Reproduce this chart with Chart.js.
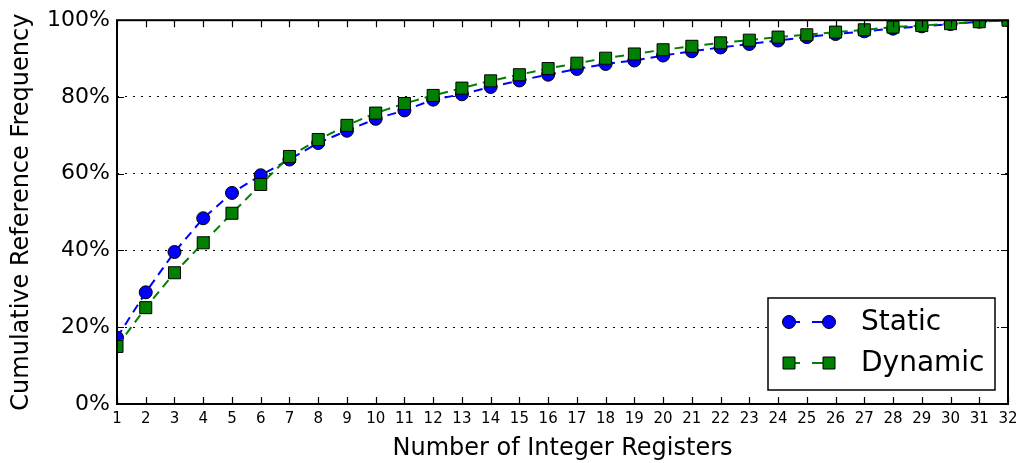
<!DOCTYPE html>
<html><head><meta charset="utf-8">
<script src="https://cdn.jsdelivr.net/npm/chart.js@4"></script>
<style>html,body{margin:0;padding:0;background:#fff}#wrap{width:1024px;height:463px;position:relative}</style>
</head><body><div id="wrap"><canvas id="c" width="1024" height="463"></canvas></div>
<script>
const registers = [1,2,3,4,5,6,7,8,9,10,11,12,13,14,15,16,17,18,19,20,21,22,23,24,25,26,27,28,29,30,31,32];
const staticFreq = [17.3,29.1,39.6,48.4,55.0,59.6,63.7,68.0,71.2,74.3,76.5,79.3,80.7,82.6,84.3,85.8,87.3,88.6,89.5,90.8,91.9,92.9,93.8,94.7,95.6,96.4,97.1,97.8,98.4,99.0,99.6,100];
const dynamicFreq = [15.0,25.1,34.2,42.0,49.7,57.2,64.5,68.9,72.6,75.8,78.3,80.4,82.3,84.2,85.8,87.4,88.8,90.1,91.2,92.3,93.2,94.1,94.8,95.6,96.2,96.9,97.5,98.2,98.6,99.1,99.6,100];
const yTickValues = [0,20,40,60,80,100];
const seriesNames = ['Static','Dynamic'];
const FONT = "'DejaVu Sans', sans-serif";

const toPts = arr => registers.map((r,i)=>({x:r,y:arr[i]}));

const framePlugin = {
  id:'frame',
  afterDraw(chart){
    const {ctx, chartArea:a, scales:{x,y}} = chart;
    ctx.save();
    ctx.strokeStyle='#000';
    ctx.lineWidth=1.2;
    ctx.beginPath();
    registers.forEach(r=>{
      const px=Math.round(x.getPixelForValue(r))+0.5;
      ctx.moveTo(px,a.bottom); ctx.lineTo(px,a.bottom-7);
      ctx.moveTo(px,a.top); ctx.lineTo(px,a.top+7);
    });
    yTickValues.forEach(v=>{
      const py=Math.round(y.getPixelForValue(v))+0.5;
      ctx.moveTo(a.left,py); ctx.lineTo(a.left+7,py);
      ctx.moveTo(a.right,py); ctx.lineTo(a.right-7,py);
    });
    ctx.stroke();
    ctx.lineWidth=2;
    ctx.strokeRect(a.left,a.top,a.right-a.left,a.bottom-a.top);
    // legend
    const lx=768, ly=298, lw=227, lh=92;
    ctx.fillStyle='#fff';
    ctx.fillRect(lx,ly,lw,lh);
    ctx.lineWidth=1.5;
    ctx.strokeRect(lx,ly,lw,lh);
    const rows=[322,363];
    chart.data.datasets.slice().sort((p,q)=>p.legendIdx-q.legendIdx).forEach((ds,i)=>{
      const cy=rows[i];
      ctx.save();
      ctx.strokeStyle=ds.borderColor; ctx.lineWidth=2; ctx.setLineDash([11,12]);
      ctx.beginPath(); ctx.moveTo(789,cy); ctx.lineTo(829,cy); ctx.stroke();
      ctx.restore();
      [789,829].forEach(mx=>{
        ctx.fillStyle=ds.pointBackgroundColor; ctx.strokeStyle='#000'; ctx.lineWidth=1;
        ctx.beginPath();
        if(ds.pointStyle==='circle'){ ctx.arc(mx,cy,6.5,0,Math.PI*2); }
        else { ctx.rect(mx-6,cy-6,12,12); }
        ctx.fill(); ctx.stroke();
      });
      ctx.fillStyle='#000'; ctx.font="28px "+FONT; ctx.textBaseline='middle'; ctx.textAlign='left';
      ctx.fillText(ds.label,861,cy+1);
    });
    ctx.restore();
  }
};

new Chart(document.getElementById('c'),{
  type:'line',
  data:{datasets:[
    {label:seriesNames[1],legendIdx:1,order:0,data:toPts(dynamicFreq),borderColor:'#008000',backgroundColor:'#008000',pointBackgroundColor:'#008000',pointBorderColor:'#000',pointBorderWidth:1,pointStyle:'rect',pointRadius:8.5,borderWidth:2,borderDash:[9,6],fill:false,tension:0,clip:0},
    {label:seriesNames[0],legendIdx:0,order:1,data:toPts(staticFreq),borderColor:'#0000ff',backgroundColor:'#0000ff',pointBackgroundColor:'#0000ff',pointBorderColor:'#000',pointBorderWidth:1,pointStyle:'circle',pointRadius:6.5,borderWidth:2,borderDash:[9,6],fill:false,tension:0,clip:0}
  ]},
  options:{
    responsive:false,animation:false,devicePixelRatio:1,
    layout:{padding:{top:20,right:16,left:7,bottom:0}},
    plugins:{legend:{display:false},tooltip:{enabled:false}},
    scales:{
      x:{type:'linear',min:1,max:32,
        afterBuildTicks:s=>{s.ticks=registers.map(v=>({value:v}));},
        ticks:{font:{family:FONT,size:15},color:'#000',maxRotation:0,autoSkip:false,padding:6},
        grid:{display:false,drawTicks:false},border:{display:false},
        title:{display:true,text:'Number of Integer Registers',font:{family:FONT,size:24},color:'#000',padding:0},
        afterFit:s=>{s.height=59;}
      },
      y:{min:0,max:100,
        afterBuildTicks:s=>{s.ticks=yTickValues.map(v=>({value:v}));},
        ticks:{font:{family:FONT,size:22},color:'#000',padding:7,callback:v=>v+'%'},
        grid:{drawTicks:false,lineWidth:1,color:c=>(c.tick&&(c.tick.value===0||c.tick.value===100))?'rgba(0,0,0,0)':'#000'},
        border:{display:false,dash:[2,6]},
        title:{display:true,text:'Cumulative Reference Frequency',font:{family:FONT,size:24},color:'#000',padding:0},
        afterFit:s=>{s.width=110;}
      }
    }
  },
  plugins:[framePlugin]
});
</script></body></html>
